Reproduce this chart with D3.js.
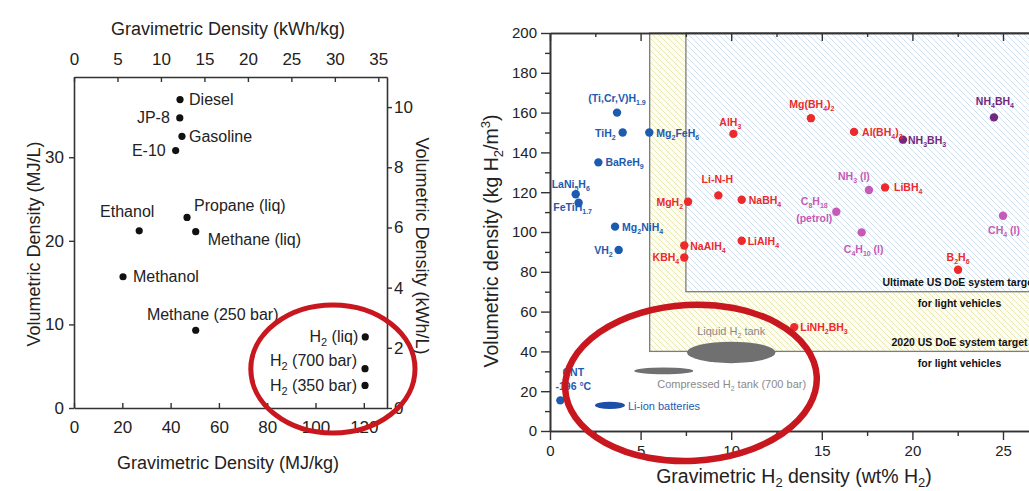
<!DOCTYPE html>
<meta charset="utf-8">
<script src="https://d3js.org/d3.v7.min.js"></script>
<style>
	body{
		margin:0;
		background:#fff;
		font-family:'Liberation Sans', Arial, sans-serif;
	}
	svg{display:block;}
</style>
<div id="chart"></div>
<script>

// ---------- left panel : fuels (MJ/kg , MJ/L)
var fuelNames = ["Diesel","JP-8","Gasoline","E-10","Ethanol","Propane (liq)","Methane (liq)","Methanol","Methane (250 bar)","H_{2} (liq)","H_{2} (700 bar)","H_{2} (350 bar)"]
var fuelGrav = [43.9,43.8,44.7,42.1,27.0,46.8,50.4,20.3,50.4,120.6,120.5,120.5]
var fuelVol = [36.9,34.7,32.5,30.8,21.2,22.8,21.1,15.7,9.3,8.5,4.7,2.7]
// label placement (dx, dy, anchor) kept apart from the values
var fuelLabelDx = [9,-10,7,-10,-12,7,12,10,17,-7,-8,-8]
var fuelLabelDy = [5.5,5.5,5.5,5.5,-14,-6,13,5.5,-10,5.5,-2.5,6]
var fuelLabelAnchor = ["start","end","start","end","middle","start","start","start","middle","end","end","end"]

var gravTicksMJ = [0,20,40,60,80,100,120]
var gravTicksKWh = [0,5,10,15,20,25,30,35]
var volTicksMJ = [0,10,20,30]
var volTicksKWh = [0,2,4,6,8,10]
var leftRing = [107.2,4.67,34,7.66] // cx, cy, rx, ry (data units)

// ---------- right panel : H2 storage materials (wt% H2 , kg H2/m3)
var matNames = ["(Ti,Cr,V)H_{1.9}","TiH_{2}","Mg_{2}FeH_{6}","BaReH_{9}","LaNi_{5}H_{6}","FeTiH_{1.7}","Mg_{2}NiH_{4}","VH_{2}","CNT|-196 °C",
	"AlH_{3}","Li-N-H","NaBH_{4}","MgH_{2}","NaAlH_{4}","KBH_{4}","LiAlH_{4}","Mg(BH_{4})_{2}","Al(BH_{4})_{3}","LiBH_{4}","B_{2}H_{6}","LiNH_{2}BH_{3}",
	"NH_{3}BH_{3}","NH_{4}BH_{4}",
	"NH_{3} (l)","C_{8}H_{18}|(petrol)","C_{4}H_{10} (l)","CH_{4} (l)"]
var matWt = [3.70,4.01,5.48,2.67,1.42,1.58,3.59,3.79,0.57,
	10.12,9.29,10.58,7.62,7.41,7.41,10.58,14.4,16.78,18.49,22.52,13.48,
	19.48,24.5,
	17.6,15.8,17.2,25.0]
var matVol = [160,150,150,135,119,114.7,102.7,91,15.4,
	149.3,118.4,116.2,115.2,93.2,87.2,95.6,157.2,150.3,122.4,81,52.2,
	146.4,157.6,
	121.1,110.2,99.8,108.2]
var matGroup = ["metal","metal","metal","metal","metal","metal","metal","metal","metal",
	"complex","complex","complex","complex","complex","complex","complex","complex","complex","complex","complex","complex",
	"chemical","chemical",
	"liquid","liquid","liquid","liquid"]
var matLabelDx = [0,-7,7,7,-5,-6,7,-6,13, -3,-1,7,-5,6,-5,6,1,8,9,0,6, 5,1, -15,-22,2,1]
var matLabelDy = [-11,4,4,4,-6,8,4,4,-24, -8,-12,4,4,4,4,4,-10,4,4,-9,4, 4,-12, -10,-6.5,21,18]
var matLabelAnchor = ["middle","end","start","start","middle","middle","start","end","middle",
	"middle","middle","start","end","start","end","start","middle","start","start","middle","start",
	"start","middle",
	"middle","middle","middle","middle"]
var matLineGap = {"CNT|-196 °C":13.6,"C_{8}H_{18}|(petrol)":16.5}

var tankNames = ["Liquid H_{2} tank","Compressed H_{2} tank (700 bar)","Li-ion batteries"]
var tankWt = [10.0,6.28,3.31]
var tankVol = [39.5,30.2,12.9]
var tankWtSpan = [2.44,1.63,0.83]
var tankVolSpan = [5.4,1.7,1.86]
var tankLabelDx = [0,-6.5,18]
var tankLabelDy = [-17,17,5]
var tankLabelAnchor = ["middle","start","start"]

var targetNames = ["2020 US DoE system target","Ultimate US DoE system target"]
var targetWt = [5.5,7.5]
var targetVol = [40,70]

var wtTicks = [0,5,10,15,20,25]
var wtMinor = [2.5,7.5,12.5,17.5,22.5,27.5]
var volTicks = [0,20,40,60,80,100,120,140,160,180,200]
var volMinor = [10,30,50,70,90,110,130,150,170,190]
var rightRing = [7.78,24.2,6.95,39.2]

var groupColor = {metal:"#1d5bb0",complex:"#ec2a2c",chemical:"#73287f",liquid:"#c75ab8"}
var ringColor = "#c8171e"
var font = "'Liberation Sans', Arial, sans-serif"

var W = 1029, H = 491
var svg = d3.select("#chart").append("svg").attr("width",W).attr("height",H)
var defs = svg.append("defs")

// writes "H_{2}" / "m^{3}" style text as tspans
function rich(sel, str, subSize, subDy){
	var parts = str.match(/_\{[^}]*\}|\^\{[^}]*\}|[^_^]+/g)
	var cur = 0
	parts.forEach(function(p){
		var off = 0, txt = p, sz = null
		if(p[0]=="_"){ off = subDy; txt = p.slice(2,-1); sz = subSize }
		else if(p[0]=="^"){ off = -subDy*1.7; txt = p.slice(2,-1); sz = subSize }
		var ts = sel.append("tspan").text(txt).attr("dy", off-cur)
		if(sz) ts.attr("font-size", sz)
		cur = off
	})
}

function styleAxis(g, size, color){
	g.attr("font-family", font).attr("font-size", size)
	g.select(".domain").attr("stroke","#333").attr("stroke-width",1.6)
	g.selectAll(".tick line").attr("stroke","#333").attr("stroke-width",1.4)
	g.selectAll(".tick text").attr("fill", color)
}

//////////////// LEFT PANEL
var xL = d3.scaleLinear().domain([0,129.6]).range([74,387])
var yL = d3.scaleLinear().domain([0,39.6]).range([408,77])
var xLk = d3.scaleLinear().domain([0,129.6/3.6]).range([74,387])
var yLk = d3.scaleLinear().domain([0,39.6/3.6]).range([408,77])

var gl = svg.append("g")
var ax
ax = gl.append("g").attr("transform","translate(0,408)")
	.call(d3.axisBottom(xL).tickValues(gravTicksMJ).tickSize(-5).tickSizeOuter(0).tickPadding(13))
styleAxis(ax,17,"#222")
ax = gl.append("g").attr("transform","translate(0,77)")
	.call(d3.axisTop(xLk).tickValues(gravTicksKWh).tickSize(-5).tickSizeOuter(0).tickPadding(12))
styleAxis(ax,17,"#222")
ax = gl.append("g").attr("transform","translate(74,0)")
	.call(d3.axisLeft(yL).tickValues(volTicksMJ).tickSize(5).tickSizeOuter(0).tickPadding(5))
styleAxis(ax,17,"#222")
ax = gl.append("g").attr("transform","translate(387,0)")
	.call(d3.axisRight(yLk).tickValues(volTicksKWh).tickSize(5).tickSizeOuter(0).tickPadding(2))
styleAxis(ax,17,"#222")

gl.append("text").text("Gravimetric Density (kWh/kg)").attr("x",228).attr("y",35)
	.attr("text-anchor","middle").attr("font-size",18).attr("fill","#222").attr("font-family",font)
gl.append("text").text("Gravimetric Density (MJ/kg)").attr("x",228).attr("y",469)
	.attr("text-anchor","middle").attr("font-size",18).attr("fill","#222").attr("font-family",font)
gl.append("text").text("Volumetric Density (MJ/L)").attr("transform","translate(40,244) rotate(-90)")
	.attr("text-anchor","middle").attr("font-size",18).attr("fill","#222").attr("font-family",font)
gl.append("text").text("Volumetric Density (kWh/L)").attr("transform","translate(416,246) rotate(90)")
	.attr("text-anchor","middle").attr("font-size",18).attr("fill","#222").attr("font-family",font)

gl.selectAll(".fuel").data(fuelNames).enter().append("circle")
	.attr("cx",function(d,i){return xL(fuelGrav[i])})
	.attr("cy",function(d,i){return yL(fuelVol[i])})
	.attr("r",3.6).attr("fill","#111")

gl.selectAll(".fuelLabel").data(fuelNames).enter().append("text")
	.attr("x",function(d,i){return xL(fuelGrav[i])+fuelLabelDx[i]})
	.attr("y",function(d,i){return yL(fuelVol[i])+fuelLabelDy[i]})
	.attr("text-anchor",function(d,i){return fuelLabelAnchor[i]})
	.attr("font-size",16).attr("fill","#222").attr("font-family",font)
	.each(function(d){ rich(d3.select(this), d, 11, 4) })

//////////////// RIGHT PANEL
var xR = d3.scaleLinear().domain([0,30]).range([550,1093.6])
var yR = d3.scaleLinear().domain([0,200]).range([431,33])

function hatch(id, bg, line){
	var p = defs.append("pattern").attr("id",id).attr("patternUnits","userSpaceOnUse")
		.attr("width",6).attr("height",6)
	p.append("rect").attr("width",6).attr("height",6).attr("fill",bg)
	p.append("path").attr("d","M0,0L6,6M-1,5L1,7M5,-1L7,1").attr("stroke",line).attr("stroke-width",0.9)
}
hatch("hatchY","#fdfdf4","#e8e5aa")
hatch("hatchB","#ffffff","#cbdcec")

var gr = svg.append("g")
gr.selectAll(".target").data(targetNames).enter().append("rect")
	.attr("x",function(d,i){return xR(targetWt[i])})
	.attr("y",yR(200))
	.attr("width",function(d,i){return xR(30)-xR(targetWt[i])})
	.attr("height",function(d,i){return yR(targetVol[i])-yR(200)})
	.attr("fill",function(d,i){return i==0 ? "url(#hatchY)" : "url(#hatchB)"})
	.attr("stroke","#7c7c7c").attr("stroke-width",1.3)

targetNames.forEach(function(d,i){
	var yb = yR(targetVol[i])
	gr.append("text").text(d).attr("x",xR(22.6)).attr("y",yb-5.5)
		.attr("text-anchor","middle").attr("font-size",10.5).attr("font-weight","bold")
		.attr("fill","#111").attr("font-family",font)
	gr.append("text").text("for light vehicles").attr("x",xR(22.6)).attr("y",yb+15.5)
		.attr("text-anchor","middle").attr("font-size",10.5).attr("font-weight","bold")
		.attr("fill","#111").attr("font-family",font)
})

ax = gr.append("g").attr("transform","translate(0,431)")
	.call(d3.axisBottom(xR).tickValues(wtTicks).tickSize(9).tickSizeOuter(0).tickPadding(5))
styleAxis(ax,15,"#222")
ax = gr.append("g").attr("transform","translate(0,431)")
	.call(d3.axisBottom(xR).tickValues(wtMinor).tickSize(5).tickSizeOuter(0).tickFormat(""))
styleAxis(ax,15,"#222")
ax = gr.append("g").attr("transform","translate(0,33)")
	.call(d3.axisTop(xR).tickValues(wtTicks).tickSize(-8).tickSizeOuter(0).tickFormat(""))
styleAxis(ax,15,"#222")
ax = gr.append("g").attr("transform","translate(0,33)")
	.call(d3.axisTop(xR).tickValues(wtMinor).tickSize(-4).tickSizeOuter(0).tickFormat(""))
styleAxis(ax,15,"#222")
ax = gr.append("g").attr("transform","translate(550,0)")
	.call(d3.axisLeft(yR).tickValues(volTicks).tickSize(9).tickSizeOuter(0).tickPadding(4))
styleAxis(ax,15,"#222")
ax = gr.append("g").attr("transform","translate(550,0)")
	.call(d3.axisLeft(yR).tickValues(volMinor).tickSize(5).tickSizeOuter(0).tickFormat(""))
styleAxis(ax,15,"#222")

var t = gr.append("text").attr("x",794).attr("y",483).attr("text-anchor","middle")
	.attr("font-size",19.5).attr("fill","#222").attr("font-family",font)
rich(t,"Gravimetric H_{2} density (wt% H_{2})",13,4)
t = gr.append("text").attr("transform","translate(498,241) rotate(-90)").attr("text-anchor","middle")
	.attr("font-size",19.5).attr("fill","#222").attr("font-family",font)
rich(t,"Volumetric density (kg H_{2}/m^{3})",13,5)

// tanks and batteries
gr.selectAll(".tank").data(tankNames).enter().append("ellipse")
	.attr("cx",function(d,i){return xR(tankWt[i])})
	.attr("cy",function(d,i){return yR(tankVol[i])})
	.attr("rx",function(d,i){return xR(tankWtSpan[i])-xR(0)})
	.attr("ry",function(d,i){return yR(0)-yR(tankVolSpan[i])})
	.attr("fill",function(d,i){return i==2 ? "#1d4fa8" : "#707070"})

gr.selectAll(".tankLabel").data(tankNames).enter().append("text")
	.attr("x",function(d,i){return xR(tankWt[i])+tankLabelDx[i]})
	.attr("y",function(d,i){return yR(tankVol[i])+tankLabelDy[i]})
	.attr("text-anchor",function(d,i){return tankLabelAnchor[i]})
	.attr("font-size",11).attr("font-family",font)
	.attr("fill",function(d,i){return i==2 ? "#1d5bb0" : "#8a8a8a"})
	.each(function(d){ rich(d3.select(this), d, 7, 3) })

// materials
gr.selectAll(".mat").data(matNames).enter().append("circle")
	.attr("cx",function(d,i){return xR(matWt[i])})
	.attr("cy",function(d,i){return yR(matVol[i])})
	.attr("r",4.2)
	.attr("fill",function(d,i){return groupColor[matGroup[i]]})

matNames.forEach(function(d,i){
	var lines = d.split("|")
	var gap = matLineGap[d] || 0
	lines.forEach(function(line,j){
		var tx = gr.append("text")
			.attr("x",xR(matWt[i])+matLabelDx[i])
			.attr("y",yR(matVol[i])+matLabelDy[i]+j*gap)
			.attr("text-anchor",matLabelAnchor[i])
			.attr("font-size",10.5).attr("font-weight","bold").attr("font-family",font)
			.attr("fill",groupColor[matGroup[i]])
		rich(tx,line,7,3)
	})
})

// red highlight rings
svg.append("ellipse")
	.attr("cx",xL(leftRing[0])).attr("cy",yL(leftRing[1]))
	.attr("rx",xL(leftRing[2])-xL(0)).attr("ry",yL(0)-yL(leftRing[3]))
	.attr("fill","none").attr("stroke",ringColor).attr("stroke-width",5)
svg.append("ellipse")
	.attr("transform","rotate(-3,"+xR(rightRing[0])+","+yR(rightRing[1])+")")
	.attr("cx",xR(rightRing[0])).attr("cy",yR(rightRing[1]))
	.attr("rx",xR(rightRing[2])-xR(0)).attr("ry",yR(0)-yR(rightRing[3]))
	.attr("fill","none").attr("stroke",ringColor).attr("stroke-width",6.5)

</script>
